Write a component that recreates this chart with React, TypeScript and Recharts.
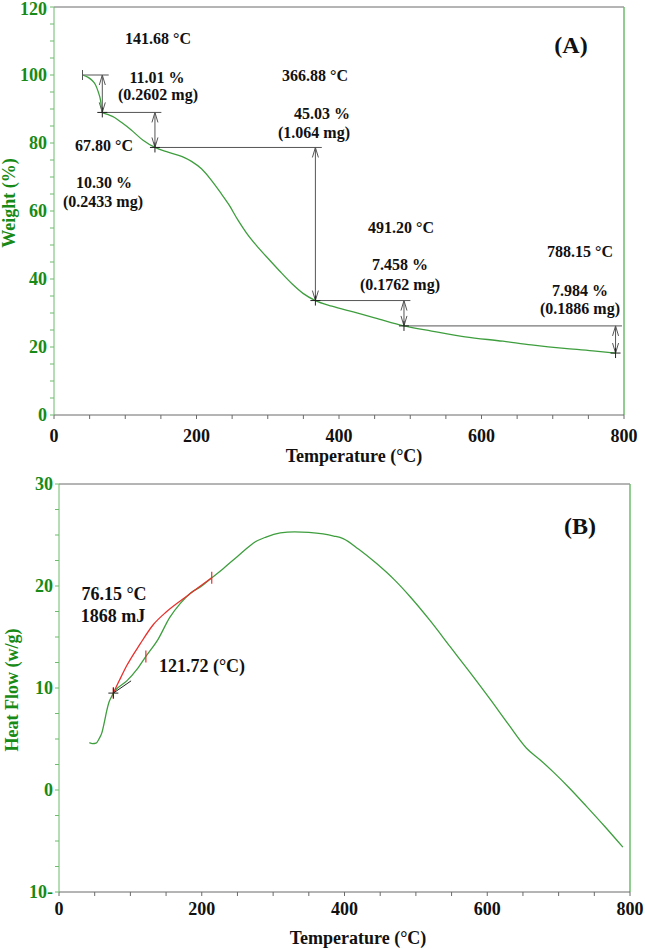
import React from "react";
import {
  LineChart,
  Line,
  XAxis,
  YAxis,
  ReferenceLine,
  ReferenceDot,
} from "recharts";

const FONT = '"Liberation Serif", "Times New Roman", serif';
const CURVE = "#3e9e3e";
const TICK_GREEN = "#178a17";
const AXIS_GREEN = "#6dbb6d";
const GREY = "#6a6a6a";
const NOTE = "#555555";
const RED = "#e8302c";

// shared temperature axis
const tempTicks = [0, 50, 100, 150, 200, 250, 300, 350, 400, 450, 500, 550, 600, 650, 700, 750, 800];
const tempLabels = [0, 200, 400, 600, 800];

// --- TGA (weight loss) ---
const tgaTemp = [
  40, 48, 54, 58, 62, 65.3, 67.8, 75, 85, 95, 108, 125, 141.68, 160, 180, 193, 207, 221, 233,
  245, 258, 270, 284, 298, 316, 334, 350, 366.88, 390, 420, 450, 491.2, 530, 577, 630, 670,
  720, 760, 788.15,
];
const tgaWeight = [
  100, 99.3, 98.3, 97.2, 95.1, 92.6, 88.99, 88.4, 87.5, 86.0, 83.9, 80.8, 78.69, 77.3, 76.0,
  74.6, 72.4, 69.0, 65.6, 62.0, 57.4, 53.6, 49.9, 46.6, 42.5, 38.6, 35.7, 33.66, 32.0, 30.3,
  28.6, 26.2, 24.7, 23.0, 21.7, 20.6, 19.5, 18.8, 18.22,
];
const weightTicks = [0, 5, 10, 15, 20, 25, 30, 35, 40, 45, 50, 55, 60, 65, 70, 75, 80, 85, 90, 95, 100, 105, 110, 115, 120];
const weightLabels = [0, 20, 40, 60, 80, 100, 120];

const runStart = 40;
const stepTemps = [67.8, 141.68, 366.88, 491.2, 788.15];
const stepLossPct = [11.01, 10.3, 45.03, 7.458, 7.984];
const stepLossMg = [0.2602, 0.2433, 1.064, 0.1762, 0.1886];

// --- DSC (heat flow) ---
const dscTemp = [
  42.5, 47, 52, 56, 60, 64, 67, 70, 74, 76.15, 80, 95, 110, 121.72, 139, 155, 170, 184, 200,
  214, 230, 245, 260, 272, 290, 310, 330, 350, 370, 385, 398, 420, 445, 470, 492, 520, 548,
  575, 604, 630, 655, 675, 692, 715, 739, 765, 790,
];
const dscHeat = [
  4.65, 4.55, 4.6, 5.0, 5.6, 6.8, 7.8, 8.6, 9.2, 9.5, 9.85, 10.7, 11.9, 13.1, 14.8, 16.9, 18.3,
  19.3, 20.0, 20.8, 21.7, 22.6, 23.5, 24.2, 24.8, 25.2, 25.3, 25.25, 25.1, 24.9, 24.65, 23.6,
  22.2, 20.6, 18.95, 16.6, 14.05, 11.6, 8.9, 6.4, 4.1, 2.9, 1.8, 0.2, -1.6, -3.6, -5.6,
];
// integrated peak outline
const peakTemp = [76.15, 85, 95, 113.5, 132, 151, 179, 214];
const peakHeat = [9.5, 10.8, 12.2, 14.3, 16.2, 17.5, 19.0, 20.8];
const heatTicks = [-10, -7.5, -5, -2.5, 0, 2.5, 5, 7.5, 10, 12.5, 15, 17.5, 20, 22.5, 25, 27.5, 30];
const heatLabels: Record<number, string> = { "-10": "10-", 0: "0", 10: "10", 20: "20", 30: "30" };

const onsetTemp = 76.15;
const peakEnergy = 1868;
const peakMax = 121.72;
const tangentEnd = { t: 101, h: 10.7 };

const tgaData = tgaTemp.map((t, i) => ({ t, w: tgaWeight[i] }));
const dscData = dscTemp.map((t, i) => ({ t, h: dscHeat[i] }));
const peakData = peakTemp.map((t, i) => ({ t, h: peakHeat[i] }));

// weight level before/after each step
const levels = stepLossPct.reduce<number[]>((acc, loss) => [...acc, acc[acc.length - 1] - loss], [100]);
const stepStarts = [runStart, ...stepTemps];
const heatAt = (t: number) => dscHeat[dscTemp.indexOf(t)];

const txt = { fontFamily: FONT, fontWeight: 700 } as const;

const TempTick = ({ x, y, payload, dy }: any) => (
  <g>
    <line x1={x} y1={y} x2={x} y2={y + 4} stroke={GREY} />
    {tempLabels.includes(payload.value) && (
      <text x={x} y={y + dy} textAnchor="middle" fontSize={18} fill="#111" style={txt}>
        {payload.value}
      </text>
    )}
  </g>
);

// top label would otherwise touch the page edge
const WeightTick = ({ x, y, payload }: any) => (
  <g>
    <line x1={x - 4} y1={y} x2={x} y2={y} stroke={AXIS_GREEN} />
    {weightLabels.includes(payload.value) && (
      <text x={x - 7} y={Math.max(y + 6, 15)} textAnchor="end" fontSize={18} fill={TICK_GREEN} style={txt}>
        {payload.value}
      </text>
    )}
  </g>
);

const HeatTick = ({ x, y, payload }: any) => (
  <g>
    <line x1={x - 4} y1={y} x2={x} y2={y} stroke={AXIS_GREEN} />
    {heatLabels[payload.value] !== undefined && (
      <text x={x - 6} y={y + 6} textAnchor="end" fontSize={18} fill={TICK_GREEN} style={txt}>
        {heatLabels[payload.value]}
      </text>
    )}
  </g>
);

// vertical measuring line with open arrow heads at both ends
const DoubleArrow = (p: any) => {
  const top = Math.min(p.y1, p.y2);
  const bot = Math.max(p.y1, p.y2);
  const x = p.x1;
  return (
    <g stroke={NOTE} strokeWidth={1} fill="none">
      <line x1={x} y1={top} x2={x} y2={bot} />
      <path d={`M${x - 3},${top + 10} L${x},${top} L${x + 3},${top + 10}`} />
      <path d={`M${x - 3},${bot - 10} L${x},${bot} L${x + 3},${bot - 10}`} />
    </g>
  );
};

const Cross = (color: string, arm: number) => (p: any) => (
  <g stroke={color} strokeWidth={1}>
    <line x1={p.cx - arm} y1={p.cy} x2={p.cx + arm} y2={p.cy} />
    <line x1={p.cx} y1={p.cy - arm} x2={p.cx} y2={p.cy + arm} />
  </g>
);

const RedTick = (p: any) => (
  <line x1={p.cx} y1={p.cy - 6} x2={p.cx} y2={p.cy + 6} stroke={RED} strokeWidth={1.2} />
);

const StartTick = (p: any) => (
  <line x1={p.cx} y1={p.cy - 5} x2={p.cx} y2={p.cy + 5} stroke={NOTE} strokeWidth={1} />
);

// text placement, page pixels
const stepTextSpots = [
  { temp: [104, 151], loss: [157, 83], mg: [158, 100] },
  { temp: [158, 44], loss: [104, 188], mg: [103, 207] },
  { temp: [315, 81], loss: [322, 119], mg: [314, 138] },
  { temp: [401, 233], loss: [400, 270], mg: [400, 290] },
  { temp: [580, 257], loss: [580, 296], mg: [580, 314] },
];

const Note = ({ x, y, size = 16, color = "#111", children }: any) => (
  <text x={x} y={y} textAnchor="middle" fontSize={size} fill={color} style={txt}>
    {children}
  </text>
);

export default function App() {
  return (
    <div style={{ position: "absolute", left: 0, top: 0, width: 645, height: 949, background: "#fff" }}>
      <div style={{ position: "absolute", left: 0, top: 0 }}>
        <LineChart width={645} height={475} data={tgaData} margin={{ top: 7, right: 21, bottom: 0, left: 0 }}>
          <XAxis
            dataKey="t"
            type="number"
            domain={[0, 800]}
            ticks={tempTicks}
            interval={0}
            tickSize={0}
            tickMargin={0}
            height={60}
            axisLine={{ stroke: GREY }}
            tickLine={false}
            tick={<TempTick dy={27} />}
          />
          <YAxis
            type="number"
            domain={[0, 120]}
            ticks={weightTicks}
            interval={0}
            tickSize={0}
            tickMargin={0}
            width={54}
            axisLine={{ stroke: AXIS_GREEN }}
            tickLine={false}
            tick={<WeightTick />}
          />
          <ReferenceLine y={120} stroke={GREY} />
          <ReferenceLine x={800} stroke={AXIS_GREEN} strokeWidth={1.5} />

          {levels.slice(0, -1).map((lv, i) => (
            <ReferenceLine
              key={`h${i}`}
              segment={[
                { x: stepStarts[i], y: lv },
                { x: stepTemps[i] + 9, y: lv },
              ]}
              stroke={NOTE}
              strokeWidth={1}
            />
          ))}
          {stepTemps.map((t, i) => (
            <ReferenceLine
              key={`v${i}`}
              segment={[
                { x: t, y: levels[i] },
                { x: t, y: levels[i + 1] },
              ]}
              shape={DoubleArrow}
            />
          ))}
          <ReferenceDot x={runStart} y={100} r={0} shape={StartTick} />
          {stepTemps.map((t, i) => (
            <ReferenceDot key={`c${i}`} x={t} y={levels[i + 1]} r={0} shape={Cross("#222", 5)} />
          ))}

          <Line
            type="monotone"
            dataKey="w"
            stroke={CURVE}
            strokeWidth={1.3}
            dot={false}
            isAnimationActive={false}
          />
        </LineChart>
      </div>

      <div style={{ position: "absolute", left: 0, top: 475 }}>
        <LineChart width={645} height={474} margin={{ top: 9, right: 15, bottom: 0, left: 0 }}>
          <XAxis
            dataKey="t"
            type="number"
            domain={[0, 800]}
            ticks={tempTicks}
            interval={0}
            tickSize={0}
            tickMargin={0}
            height={57}
            axisLine={{ stroke: GREY }}
            tickLine={false}
            tick={<TempTick dy={23} />}
          />
          <YAxis
            type="number"
            domain={[-10, 30]}
            ticks={heatTicks}
            interval={0}
            tickSize={0}
            tickMargin={0}
            width={59}
            axisLine={{ stroke: AXIS_GREEN }}
            tickLine={false}
            tick={<HeatTick />}
          />
          <ReferenceLine y={30} stroke={GREY} />
          <ReferenceLine x={800} stroke={AXIS_GREEN} strokeWidth={1.5} />

          <Line
            data={dscData}
            type="monotone"
            dataKey="h"
            stroke={CURVE}
            strokeWidth={1.3}
            dot={false}
            isAnimationActive={false}
          />
          <Line
            data={peakData}
            type="monotone"
            dataKey="h"
            stroke={RED}
            strokeWidth={1.3}
            dot={false}
            isAnimationActive={false}
          />
          <ReferenceLine
            segment={[
              { x: onsetTemp, y: heatAt(onsetTemp) },
              { x: tangentEnd.t, y: tangentEnd.h },
            ]}
            stroke="#222"
            strokeWidth={1}
          />
          <ReferenceDot x={onsetTemp} y={heatAt(onsetTemp)} r={0} shape={RedTick} />
          <ReferenceDot x={onsetTemp} y={heatAt(onsetTemp)} r={0} shape={Cross("#222", 5)} />
          <ReferenceDot x={peakMax} y={heatAt(peakMax)} r={0} shape={RedTick} />
          <ReferenceDot
            x={peakTemp[peakTemp.length - 1]}
            y={peakHeat[peakHeat.length - 1]}
            r={0}
            shape={RedTick}
          />
        </LineChart>
      </div>

      <svg
        width={645}
        height={949}
        style={{ position: "absolute", left: 0, top: 0, pointerEvents: "none" }}
      >
        {stepTemps.map((t, i) => {
          const s = stepTextSpots[i];
          return (
            <g key={i}>
              <Note x={s.temp[0]} y={s.temp[1]}>{`${t.toFixed(2)} °C`}</Note>
              <Note x={s.loss[0]} y={s.loss[1]}>{`${stepLossPct[i].toPrecision(4)} %`}</Note>
              <Note x={s.mg[0]} y={s.mg[1]}>{`(${stepLossMg[i].toPrecision(4)} mg)`}</Note>
            </g>
          );
        })}
        <Note x={571} y={53} size={24}>(A)</Note>
        <Note x={354} y={462} size={18}>Temperature (°C)</Note>
        <text
          transform="translate(15,203) rotate(-90)"
          textAnchor="middle"
          fontSize={18}
          fill={TICK_GREEN}
          style={txt}
        >
          Weight (%)
        </text>

        <Note x={114} y={600} size={18}>{`${onsetTemp.toFixed(2)} °C`}</Note>
        <Note x={113} y={622} size={18}>{`${peakEnergy} mJ`}</Note>
        <Note x={202} y={672} size={18}>{`${peakMax.toFixed(2)} (°C)`}</Note>
        <Note x={580} y={534} size={24}>(B)</Note>
        <Note x={358} y={944} size={18}>Temperature (°C)</Note>
        <text
          transform="translate(18,690) rotate(-90)"
          textAnchor="middle"
          fontSize={18}
          fill={TICK_GREEN}
          style={txt}
        >
          Heat Flow (w/g)
        </text>
      </svg>
    </div>
  );
}
